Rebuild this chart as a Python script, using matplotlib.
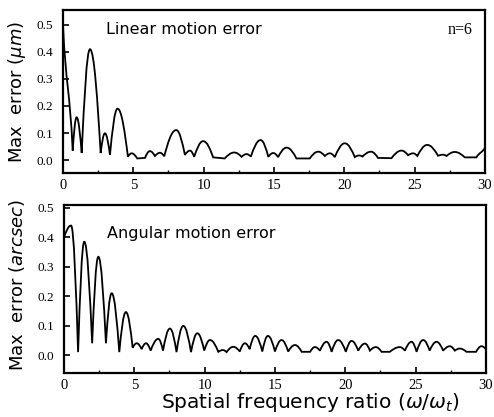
import numpy as np
import matplotlib
matplotlib.use("Agg")
import matplotlib.pyplot as plt
from matplotlib.path import Path
from matplotlib.patches import PathPatch

# peaks and troughs
lin_x = [0.0, 0.69, 0.97, 1.33, 1.92, 2.68, 2.98, 3.34, 3.88, 4.62, 4.88, 5.28, 5.83,
         6.18, 6.54, 6.9, 7.2, 8.05, 8.67, 9.03, 9.33, 9.97, 10.68, 11.5, 12.18, 12.7,
         13.05, 13.36, 14.05, 14.6, 14.95, 15.3, 15.9, 16.6, 17.55, 18.15, 18.62, 18.98,
         19.33, 20.04, 20.75, 21.05, 21.3, 21.9, 22.4, 23.36, 24.07, 24.54, 24.9, 25.2,
         25.9, 26.67, 27.03, 27.27, 27.86, 28.57, 29.4, 30.0]
lin_y = [0.50, 0.035, 0.158, 0.026, 0.41, 0.026, 0.099, 0.019, 0.19, 0.012, 0.025, 0.006, 0.008,
         0.033, 0.015, 0.027, 0.014, 0.111, 0.019, 0.035, 0.012, 0.07, 0.01, 0.006, 0.028, 0.012,
         0.022, 0.013, 0.074, 0.012, 0.026, 0.011, 0.046, 0.006, 0.006, 0.031, 0.015, 0.025,
         0.011, 0.062, 0.011, 0.017, 0.013, 0.031, 0.008, 0.007, 0.035, 0.018, 0.025, 0.015,
         0.056, 0.016, 0.02, 0.015, 0.03, 0.01, 0.01, 0.045]

ang_x = [0.0, 0.5, 1.0, 1.44, 2.0, 2.44, 2.98, 3.39, 3.93, 4.4, 4.88, 5.17, 5.52, 5.83,
         6.16, 6.7, 7.04, 7.53, 8.0, 8.48, 9.03, 9.48, 9.97, 10.38, 10.97, 11.3, 11.56,
         12.03, 12.5, 12.86, 13.2, 13.6, 14.1, 14.5, 15.0, 15.47, 15.94, 16.42, 16.9, 17.5,
         17.84, 18.2, 18.67, 19.03, 19.5, 20.04, 20.45, 20.92, 21.4, 21.75, 22.17, 22.58,
         23.17, 23.88, 24.24, 24.71, 25.07, 25.54, 26.0, 26.49, 26.96, 27.43, 27.79, 28.14,
         28.62, 29.3, 29.69, 30.0]
ang_y = [0.40, 0.44, 0.01, 0.385, 0.04, 0.334, 0.04, 0.21, 0.01, 0.146, 0.025, 0.04, 0.02, 0.04,
         0.015, 0.055, 0.015, 0.09, 0.01, 0.099, 0.01, 0.074, 0.015, 0.051, 0.011, 0.017, 0.01,
         0.028, 0.012, 0.04, 0.02, 0.065, 0.012, 0.065, 0.012, 0.051, 0.012, 0.034, 0.011, 0.011,
         0.027, 0.015, 0.045, 0.011, 0.051, 0.011, 0.048, 0.015, 0.039, 0.015, 0.027, 0.011,
         0.011, 0.027, 0.015, 0.045, 0.011, 0.051, 0.015, 0.045, 0.015, 0.03, 0.015, 0.022,
         0.011, 0.011, 0.03, 0.02]

yticks = [0.0, 0.1, 0.2, 0.3, 0.4, 0.5]
xticks = [0, 5, 10, 15, 20, 25, 30]


def bump_path(xs, ys):
    # round tops at the peaks, sharp dips at the troughs
    n = len(xs)
    def peak(i):
        return 0 < i < n - 1 and ys[i] > ys[i - 1] and ys[i] > ys[i + 1]
    verts = [(xs[0], ys[0])]
    codes = [Path.MOVETO]
    for i in range(n - 1):
        x0, y0, x1, y1 = xs[i], ys[i], xs[i + 1], ys[i + 1]
        dx, dy = x1 - x0, y1 - y0
        c1 = (x0 + 0.4 * dx, y0) if peak(i) else (x0 + 0.3 * dx, y0 + 0.5 * dy)
        c2 = (x1 - 0.4 * dx, y1) if peak(i + 1) else (x1 - 0.3 * dx, y1 - 0.5 * dy)
        verts += [c1, c2, (x1, y1)]
        codes += [Path.CURVE4] * 3
    return Path(verts, codes)


def style(ax, ylim):
    ax.set_xlim(0, 30)
    ax.set_ylim(*ylim)
    ax.set_xticks(xticks)
    ax.set_xticks(np.arange(0, 30.1, 2.5), minor=True)
    ax.set_yticks(yticks)
    ax.set_yticklabels(['%.1f' % v for v in yticks])
    ax.tick_params(direction='in', length=4, width=1.2, labelsize=10.5, pad=4)
    ax.tick_params(axis='y', pad=7, labelsize=9.5)
    ax.tick_params(which='minor', direction='in', length=2.5, width=1)
    for lab in ax.get_xticklabels() + ax.get_yticklabels():
        lab.set_family('Liberation Serif')
    for s in ax.spines.values():
        s.set_linewidth(1.6)


fig = plt.figure(figsize=(4.94, 4.17), dpi=100)
ax1 = fig.add_axes([0.1275, 0.585, 0.854, 0.391])
ax2 = fig.add_axes([0.1296, 0.1055, 0.854, 0.403])

ax1.add_patch(PathPatch(bump_path(lin_x, lin_y), fill=False, lw=1.3, ec='black'))
ax2.add_patch(PathPatch(bump_path(ang_x, ang_y), fill=False, lw=1.3, ec='black'))

style(ax1, (-0.048, 0.555))
style(ax2, (-0.061, 0.51))

ax1.text(0.102, 0.88, 'Linear motion error', transform=ax1.transAxes, fontsize=11.5,
         family='DejaVu Sans', va='center')
ax1.text(0.97, 0.88, 'n=6', transform=ax1.transAxes, fontsize=11.5,
         family='Liberation Serif', va='center', ha='right')
ax2.text(0.102, 0.83, 'Angular motion error', transform=ax2.transAxes, fontsize=11.5,
         family='DejaVu Sans', va='center')

fig.text(0.034, 1 - 92 / 417, 'Max  error ($\\mu m$)', rotation=90, fontsize=13,
         family='DejaVu Sans', ha='center', va='center')
fig.text(0.034, 1 - 285 / 417, 'Max  error ($arcsec$)', rotation=90, fontsize=13,
         family='DejaVu Sans', ha='center', va='center')
fig.text(310 / 494, 1 - 403 / 417, 'Spatial frequency ratio ($\\omega/\\omega_t$)',
         fontsize=14.5, family='DejaVu Sans', ha='center', va='center')

fig.savefig('out.png', dpi=100)
